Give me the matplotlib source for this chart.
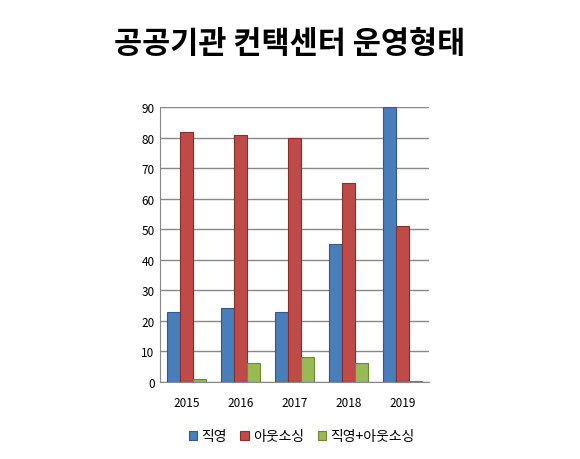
import matplotlib
matplotlib.use("Agg")
import matplotlib.pyplot as plt
import numpy as np

plt.rcParams['font.family'] = ['Noto Sans CJK KR', 'DejaVu Sans']

years = ['2015', '2016', '2017', '2018', '2019']
direct = [23, 24, 23, 45, 90]
outsourcing = [82, 81, 80, 65, 51]
mixed = [1, 6, 8, 6, 0.3]
names = ['직영', '아웃소싱', '직영+아웃소싱']
colors = ['#4a7ebb', '#be4b48', '#98b954']
edges = ['#2c5a8f', '#8c2d2a', '#6a8a35']

fig = plt.figure(figsize=(5.8, 4.6), dpi=100)
fig.text(0.5, 0.905, '공공기관 컨택센터 운영형태', ha='center', va='center',
         fontsize=22, fontweight='black')
ax = fig.add_axes([0.275, 0.168, 0.465, 0.597])
x = np.arange(len(years))
w = 0.24
for i, (vals, c, e, n) in enumerate(zip([direct, outsourcing, mixed], colors, edges, names)):
    ax.bar(x + (i - 1) * w, vals, w, color=c, edgecolor=e, linewidth=0.8, label=n, zorder=3)
ax.set_ylim(0, 90)
ax.set_yticks(range(0, 91, 10))
ax.set_xlim(-0.5, 4.5)
ax.set_xticks(x)
ax.set_xticklabels(years)
ax.tick_params(labelsize=8.5, length=0)
ax.tick_params(axis='x', pad=10)
ax.grid(axis='y', color='#888888', linewidth=1, zorder=0)
for s in ['top', 'right']:
    ax.spines[s].set_visible(False)
ax.spines['left'].set_color('#888888')
ax.spines['bottom'].set_color('#888888')
fig.legend(loc='center', bbox_to_anchor=(0.52, 0.05), ncol=3, frameon=False,
           fontsize=10, handlelength=0.6, handleheight=0.6, columnspacing=1.0, handletextpad=0.3)
fig.savefig('out.png', dpi=100)
